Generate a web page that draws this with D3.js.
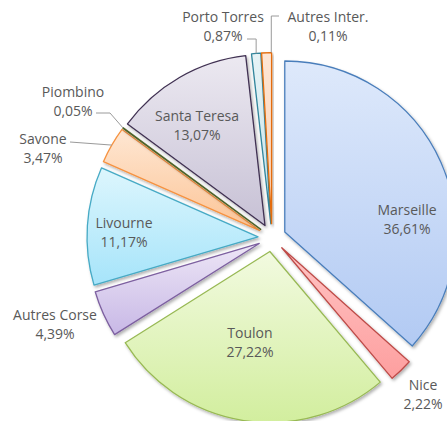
<!DOCTYPE html>
<html>
<head>
<meta charset="utf-8">
<script src="https://cdn.jsdelivr.net/npm/d3@7"></script>
<style>
  html, body { margin: 0; padding: 0; background: #fff; }
  svg { display: block; }
</style>
</head>
<body>
<svg id="chart"></svg>
<script>
// slices, clockwise from 12 o'clock
const names = ["Marseille", "Nice", "Toulon", "Autres Corse", "Livourne", "Savone", "Piombino", "Santa Teresa", "Porto Torres", "Autres Inter."];
// slice sizes as drawn (%)
const values = [36.61, 2.22, 27.22, 4.39, 11.17, 3.47, 0.05, 13.07, 0.87, 0.93];
// percentage texts as printed on the chart
const pctLabels = ["36,61%", "2,22%", "27,22%", "4,39%", "11,17%", "3,47%", "0,05%", "13,07%", "0,87%", "0,11%"];

const fills = [
    ["#dee9fb", "#b2caf3"],
    ["#ffc4c4", "#fd9f9f"],
    ["#f2fae0", "#d2ee9e"],
    ["#ede6f6", "#c8b8e6"],
    ["#ddf6fd", "#a6e4fa"],
    ["#fee7d3", "#fcc496"],
    ["#e3ecd0", "#c3d69b"],
    ["#ece9f1", "#c7c1d5"],
    ["#e6f3f6", "#c4e3ea"],
    ["#fde6d6", "#fbcdab"]
];
const strokes = ["#4a7ebb", "#be4b48", "#98b954", "#7d60a0", "#46aac5", "#f69240", "#4f6228", "#403152", "#31859c", "#e46c0a"];

const width = 447, height = 421;
const cx = 272, cy = 237.7;
const radius = 171, explode = 14;

// label anchors (text centre of first line)
const labelPos = {
    "Marseille": [407, 209],
    "Nice": [423, 384],
    "Toulon": [250, 332],
    "Autres Corse": [55, 314],
    "Livourne": [124, 222],
    "Savone": [43, 138],
    "Piombino": [73, 91],
    "Santa Teresa": [197, 115],
    "Porto Torres": [223, 16],
    "Autres Inter.": [328, 16]
};

const svg = d3.select("#chart")
    .attr("width", width)
    .attr("height", height);

const defs = svg.append("defs");

const shadow = defs.append("filter")
    .attr("id", "shadow")
    .attr("x", "-20%").attr("y", "-20%")
    .attr("width", "140%").attr("height", "140%");
shadow.append("feDropShadow")
    .attr("dx", 1.5).attr("dy", 2)
    .attr("stdDeviation", 1.6)
    .attr("flood-color", "#000")
    .attr("flood-opacity", 0.3);

fills.forEach((f, i) => {
    const g = defs.append("linearGradient")
        .attr("id", "grad" + i)
        .attr("x1", 0).attr("y1", 0)
        .attr("x2", 0).attr("y2", 1);
    g.append("stop").attr("offset", "0%").attr("stop-color", f[0]);
    g.append("stop").attr("offset", "100%").attr("stop-color", f[1]);
});

const pie = d3.pie().sort(null).value(d => d.value);
const arc = d3.arc().innerRadius(0).outerRadius(radius);

const data = names.map((n, i) => ({ name: n, value: values[i], pct: pctLabels[i], i: i }));
const arcs = pie(data);

const midAngle = d => (d.startAngle + d.endAngle) / 2;
const offset = d => [explode * Math.sin(midAngle(d)), -explode * Math.cos(midAngle(d))];

const chart = svg.append("g")
    .attr("transform", `translate(${cx}, ${cy})`);

chart.selectAll("path.slice")
    .data(arcs)
    .join("path")
    .attr("class", "slice")
    .attr("transform", d => `translate(${offset(d)[0]}, ${offset(d)[1]})`)
    .attr("d", arc)
    .attr("fill", d => `url(#grad${d.data.i})`)
    .attr("stroke", d => strokes[d.data.i])
    .attr("stroke-width", 1.3)
    .attr("stroke-linejoin", "round")
    .attr("filter", "url(#shadow)");

// point on the outer edge of an exploded slice, t = fraction along the slice
function edgePoint(d, t) {
    const a = d.startAngle + (d.endAngle - d.startAngle) * t;
    const o = offset(d);
    return [cx + o[0] + radius * Math.sin(a), cy + o[1] - radius * Math.cos(a)];
}

const byName = {};
arcs.forEach(d => byName[d.data.name] = d);

// leader lines
const leaders = [
    { name: "Savone", pts: [[70, 142]], t: 0.5 },
    { name: "Piombino", pts: [[96, 113], [110, 113]], t: 0.5 },
    { name: "Porto Torres", pts: [[247, 39], [256, 39]], t: 0.5, vertical: true },
    { name: "Autres Inter.", pts: [[279, 16]], t: 0.97, vertical: true }
];

const line = d3.line();
leaders.forEach(l => {
    const p = edgePoint(byName[l.name], l.t);
    let pts = l.pts.slice();
    if (l.vertical) {
        const last = pts[pts.length - 1];
        pts.push([p[0], last[1]]);
    }
    pts.push(p);
    svg.append("path")
        .attr("d", line(pts))
        .attr("fill", "none")
        .attr("stroke", "#9a9a9a")
        .attr("stroke-width", 1);
});

// labels
const labels = svg.append("g")
    .attr("font-family", "'Open Sans', sans-serif")
    .attr("font-size", 14)
    .attr("fill", "#595959")
    .attr("text-anchor", "middle");

data.forEach(d => {
    const p = labelPos[d.name];
    labels.append("text")
        .attr("x", p[0])
        .attr("y", p[1])
        .attr("dominant-baseline", "central")
        .text(d.name);
    labels.append("text")
        .attr("x", p[0])
        .attr("y", p[1] + 19.5)
        .attr("dominant-baseline", "central")
        .text(d.pct);
});
</script>
</body>
</html>
